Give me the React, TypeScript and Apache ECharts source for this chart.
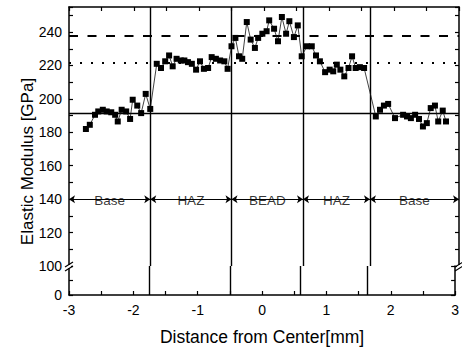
import React, { useEffect, useRef } from 'react';
import * as echarts from 'echarts';

// Distance from weld center [mm] and elastic modulus [GPa], per zone
const leftBaseX = [-2.74, -2.68, -2.6, -2.55, -2.48, -2.42, -2.35, -2.29, -2.25, -2.19, -2.12, -2.06, -2.02, -1.95, -1.89, -1.82, -1.75];
const leftBaseY = [182, 184.5, 190.5, 192.5, 193.5, 192.5, 192, 190.5, 186.5, 193.5, 192.5, 188, 199.5, 196, 191.5, 203, 194];

const leftHazX = [-1.65, -1.585, -1.52, -1.46, -1.405, -1.345, -1.28, -1.225, -1.17, -1.11, -1.045, -0.985, -0.925, -0.86, -0.805, -0.74, -0.675, -0.61, -0.56];
const leftHazY = [221, 218.5, 222.5, 226, 219.5, 224, 223, 223, 222, 221, 217.5, 222.5, 218, 218.5, 225, 224, 223, 222.5, 218];

const beadX = [-0.5, -0.44, -0.385, -0.335, -0.265, -0.205, -0.14, -0.09, -0.025, 0.04, 0.08, 0.155, 0.215, 0.275, 0.34, 0.39, 0.46, 0.52, 0.58];
const beadY = [231.5, 236.5, 225.5, 224, 246, 235.5, 230.5, 236.5, 239, 240.5, 247, 242, 234.5, 249, 239, 246.5, 237, 244, 225.5];

const rightHazX = [0.66, 0.735, 0.8, 0.86, 0.94, 1.01, 1.065, 1.12, 1.175, 1.235, 1.3, 1.355, 1.41, 1.475, 1.54];
const rightHazY = [231.5, 231.5, 226, 222.5, 216, 217.5, 216.5, 220.5, 217.5, 213.5, 218.5, 225.5, 218.5, 219, 218.5];

const rightBaseX = [1.72, 1.785, 1.845, 1.91, 2.015, 2.14, 2.2, 2.26, 2.325, 2.385, 2.445, 2.505, 2.565, 2.63, 2.68, 2.75, 2.8];
const rightBaseY = [189.5, 193.5, 196, 197, 188.5, 190.5, 189.5, 188.5, 190.5, 188, 183.5, 185.5, 194.5, 196, 186.5, 193, 186.5];

// Zone boundaries and names
const zoneBounds = [-3, -1.75, -0.5, 0.6, 1.63, 3];
const zoneNames = ['Base', 'HAZ', 'BEAD', 'HAZ', 'Base'];
const zoneLineValue = 140;

// Reference levels [GPa]
const baseLevel = 191.5;
const beadLevel = 238;
const hazLevel = 221.5;

// Axis ranges
const xMin = -3;
const xMax = 3;
const xStep = 0.5;
const yTopMin = 100;
const yTopMax = 255;
const yTopStep = 10;
const yBottomMin = 0;
const yBottomMax = 100;
const yBottomStep = 50;

const FONT = '"Liberation Sans", Arial, Helvetica, sans-serif';

export default function App() {
  const ref = useRef<HTMLDivElement>(null);

  useEffect(() => {
    if (!ref.current) return;
    const chart = echarts.init(ref.current, null, { renderer: 'svg' });

    const allX = [...leftBaseX, ...leftHazX, ...beadX, ...rightHazX, ...rightBaseX];
    const allY = [...leftBaseY, ...leftHazY, ...beadY, ...rightHazY, ...rightBaseY];
    const points = allX.map((x, i) => [x, allY[i]]);

    const axisLine = { show: true, onZero: false, lineStyle: { color: '#000', width: 1.5 } };
    const axisTick = { show: true, inside: true, length: 4, lineStyle: { color: '#000', width: 1.2 } };
    const tickLabel = { color: '#000', fontSize: 14, fontFamily: FONT };

    const innerBounds = zoneBounds.slice(1, -1);
    const vLineStyle = { color: '#000', width: 1.4, type: 'solid' };

    const option: any = {
      animation: false,
      backgroundColor: '#fff',
      grid: [
        { left: 69, right: 3, top: 7, height: 259 },
        { left: 69, right: 3, top: 266, height: 29 },
      ],
      xAxis: [
        {
          gridIndex: 0, type: 'value', position: 'top', min: xMin, max: xMax, interval: xStep,
          axisLine, axisTick, axisLabel: { show: false }, splitLine: { show: false },
        },
        {
          gridIndex: 1, type: 'value', position: 'bottom', min: xMin, max: xMax, interval: xStep,
          axisLine, axisTick,
          axisLabel: { ...tickLabel, margin: 8, formatter: (v: number) => (Number.isInteger(v) ? String(v) : '') },
          splitLine: { show: false },
          name: 'Distance from Center[mm]', nameLocation: 'middle', nameGap: 33,
          nameTextStyle: { color: '#000', fontSize: 17.5, fontFamily: FONT },
        },
      ],
      yAxis: [
        {
          gridIndex: 0, type: 'value', position: 'left', min: yTopMin, max: yTopMax, interval: yTopStep,
          axisLine, axisTick,
          axisLabel: { ...tickLabel, margin: 7, formatter: (v: number) => (v % 20 === 0 ? String(v) : '') },
          splitLine: { show: false },
        },
        {
          gridIndex: 0, type: 'value', position: 'right', min: yTopMin, max: yTopMax, interval: yTopStep,
          axisLine, axisTick, axisLabel: { show: false }, splitLine: { show: false },
        },
        {
          gridIndex: 1, type: 'value', position: 'left', min: yBottomMin, max: yBottomMax, interval: yBottomStep,
          axisLine, axisTick,
          axisLabel: { ...tickLabel, margin: 7, formatter: (v: number) => (v === 0 ? '0' : '') },
          splitLine: { show: false },
        },
        {
          gridIndex: 1, type: 'value', position: 'right', min: yBottomMin, max: yBottomMax, interval: yBottomStep,
          axisLine, axisTick, axisLabel: { show: false }, splitLine: { show: false },
        },
      ],
      series: [
        {
          type: 'line',
          xAxisIndex: 0,
          yAxisIndex: 0,
          data: points,
          symbol: 'rect',
          symbolSize: 6,
          itemStyle: { color: '#000' },
          lineStyle: { color: '#111', width: 0.8 },
          z: 5,
          markLine: {
            silent: true,
            symbol: 'none',
            label: { show: false },
            data: [
              { yAxis: baseLevel, lineStyle: { color: '#000', width: 1.3, type: 'solid' } },
              { yAxis: beadLevel, lineStyle: { color: '#000', width: 2, type: [9, 9.5] } },
              { yAxis: hazLevel, lineStyle: { color: '#000', width: 2, type: [2, 9] } },
              ...innerBounds.map((v) => ({ xAxis: v, lineStyle: vLineStyle })),
            ],
          },
        },
        {
          type: 'line',
          xAxisIndex: 0,
          yAxisIndex: 0,
          data: [],
          markLine: {
            silent: true,
            symbol: ['arrow', 'arrow'],
            symbolSize: 6,
            label: { show: false },
            lineStyle: { color: '#000', width: 1, type: 'solid' },
            data: zoneNames.map((_, i) => [
              { coord: [zoneBounds[i], zoneLineValue] },
              { coord: [zoneBounds[i + 1], zoneLineValue] },
            ]),
          },
        },
        {
          type: 'scatter',
          xAxisIndex: 0,
          yAxisIndex: 0,
          symbolSize: 1,
          itemStyle: { color: 'rgba(0,0,0,0)' },
          z: 6,
          label: {
            show: true,
            position: 'inside',
            formatter: '{b}',
            color: '#000',
            fontSize: 13.5,
            fontFamily: FONT,
            offset: [0, 1],
          },
          data: zoneNames.map((n, i) => ({
            name: n,
            value: [(zoneBounds[i] + zoneBounds[i + 1]) / 2, zoneLineValue],
          })),
        },
        {
          type: 'line',
          xAxisIndex: 1,
          yAxisIndex: 2,
          data: [],
          markLine: {
            silent: true,
            symbol: 'none',
            label: { show: false },
            data: innerBounds.map((v) => ({ xAxis: v, lineStyle: vLineStyle })),
          },
        },
      ],
    };

    chart.setOption(option);

    // axis-break marks and rotated y-axis title
    const pl = chart.convertToPixel({ gridIndex: 0 }, [xMin, yTopMin]) as number[];
    const pr = chart.convertToPixel({ gridIndex: 0 }, [xMax, yTopMin]) as number[];
    const breakMark = (cx: number, cy: number) => [
      { type: 'rect', shape: { x: cx - 2, y: cy - 1, width: 4, height: 3 }, style: { fill: '#fff' }, z: 100 },
      { type: 'line', shape: { x1: cx - 4, y1: cy + 1, x2: cx + 4, y2: cy - 4 }, style: { stroke: '#000', lineWidth: 1.2 }, z: 101 },
      { type: 'line', shape: { x1: cx - 4, y1: cy + 5, x2: cx + 4, y2: cy }, style: { stroke: '#000', lineWidth: 1.2 }, z: 101 },
    ];
    chart.setOption({
      graphic: [
        ...breakMark(pl[0], pl[1]),
        ...breakMark(pr[0], pr[1]),
        {
          type: 'text',
          x: pl[0] - 42,
          y: 161.5,
          rotation: Math.PI / 2,
          style: {
            text: 'Elastic Modulus [GPa]',
            fill: '#000',
            fontSize: 17,
            fontFamily: FONT,
            align: 'center',
            verticalAlign: 'middle',
          },
          z: 100,
        },
      ],
    });

    return () => chart.dispose();
  }, []);

  return (
    <div
      ref={ref}
      style={{ position: 'fixed', left: 0, top: 0, width: 462, height: 347, background: '#fff' }}
    />
  );
}
